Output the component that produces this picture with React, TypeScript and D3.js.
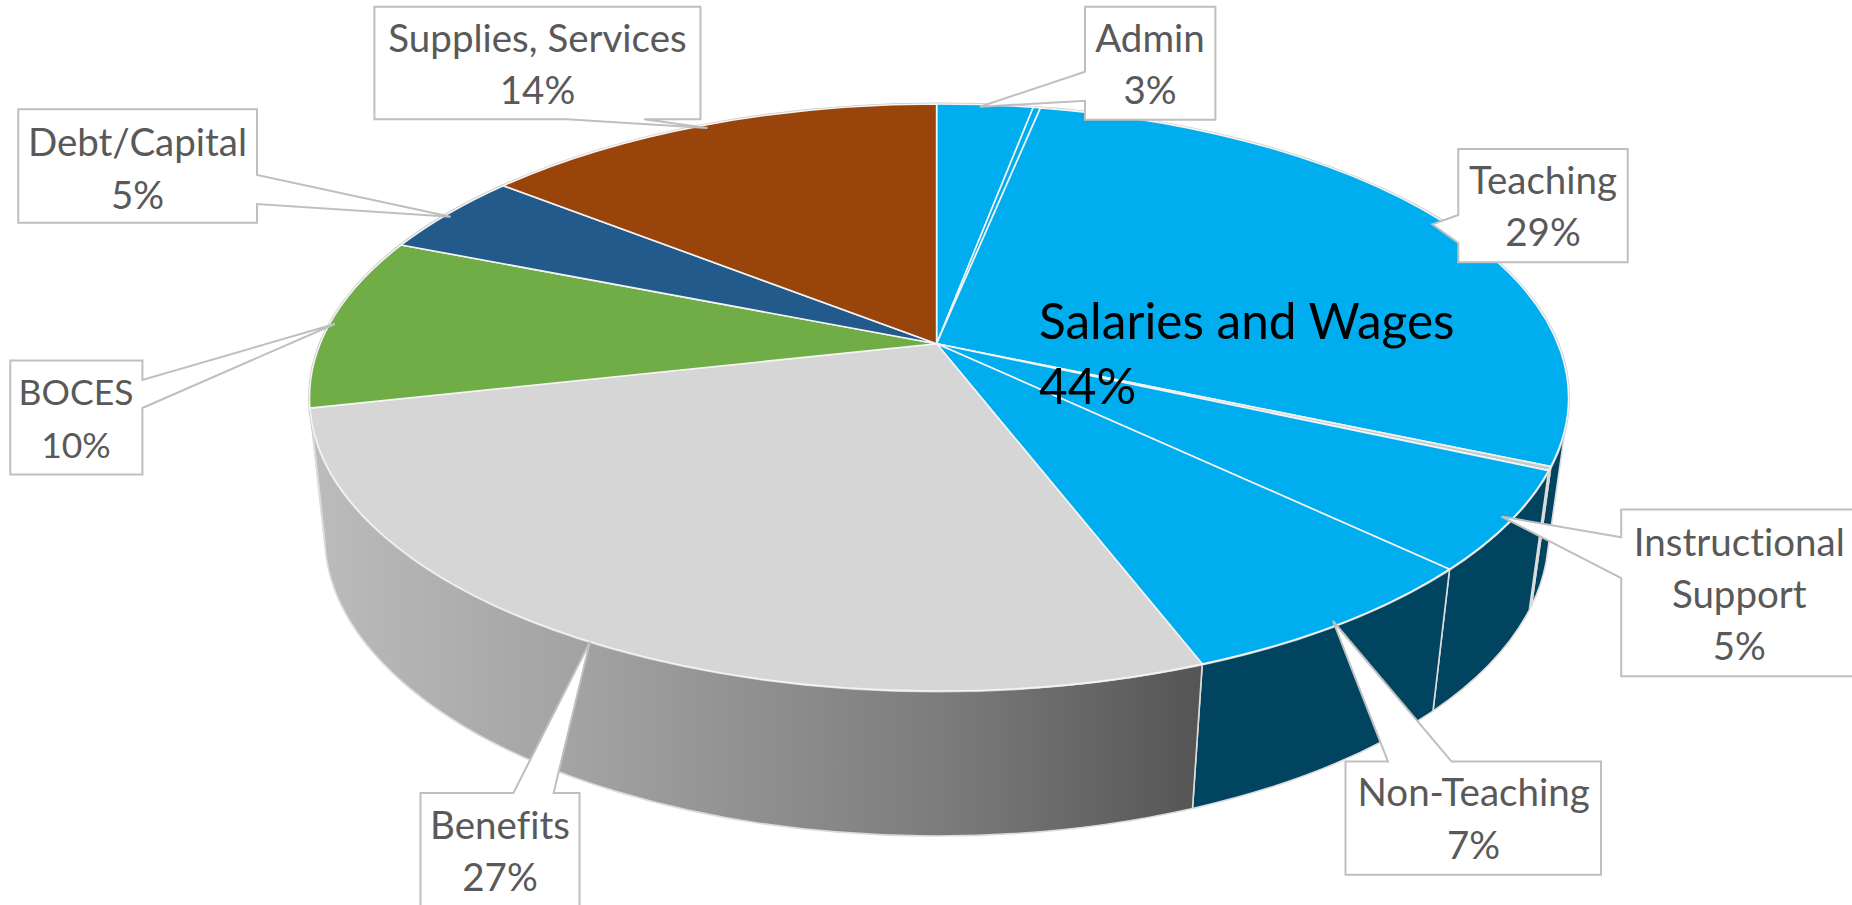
import React from "react";
import * as d3 from "d3";

// slices, clockwise from 12 o'clock. The two blank ones are the thin slivers in the original
const categories = ["Admin", "", "Teaching", "", "Instructional Support", "Non-Teaching", "Benefits", "BOCES", "Debt/Capital", "Supplies, Services"];
const values = [2.95, 0.22, 28.38, 0.22, 5.4, 7.05, 27.28, 9.6, 4.6, 14.3];
const topColors = ["#00aeef", "#00aeef", "#00aeef", "#c4ccd0", "#00aeef", "#00aeef", "#d6d6d6", "#70ad47", "#235a8c", "#99440a"];
const wallColors = ["#00445f", "#00445f", "#00445f", "#00445f", "#00445f", "#00445f", "url(#benefitsWall)", "#70ad47", "#235a8c", "#99440a"];
const percentLabels = ["3%", "29%", "5%", "7%", "27%", "10%", "5%", "14%"];
const groupLabel = ["Salaries and Wages", "44%"];

// perspective of the disc: apex sits above the centre of the rim ellipse
const apex = { x: 936.6, y: 343.7 };
const persp = { a: 619, b: 283.8, k: 0.183 };
const topRim = { cx: 939, cy: 397.5, rx: 629.5, ry: 293.5 };
const lowRim = { cx: 936.6, cy: 535, rx: 612, ry: 301 };
const WALL_FROM = 0.09;
const WALL_TO = Math.PI * 0.995;

const rimAngle = (theta: number) => {
  const u = Math.sin(theta);
  const v = -Math.cos(theta);
  const w = 1 - persp.k * v;
  const x = apex.x + (persp.a * u) / w;
  const y = apex.y + (persp.b * v) / w;
  const phi = Math.atan2((y - topRim.cy) / topRim.ry, (x - topRim.cx) / topRim.rx);
  return theta > Math.PI && phi < 0 ? phi + 2 * Math.PI : phi;
};

type Rim = typeof topRim;
const onRim = (r: Rim, phi: number) => [r.cx + r.rx * Math.cos(phi), r.cy + r.ry * Math.sin(phi)];
const arcTo = (r: Rim, from: number, to: number) => {
  const [x, y] = onRim(r, to);
  const large = Math.abs(to - from) > Math.PI ? 1 : 0;
  return `A${r.rx} ${r.ry} 0 ${large} ${to > from ? 1 : 0} ${x} ${y}`;
};

const slicePath = (a0: number, a1: number) => {
  const [x0, y0] = onRim(topRim, a0);
  return `M${apex.x} ${apex.y}L${x0} ${y0}${arcTo(topRim, a0, a1)}Z`;
};

const wallPath = (a0: number, a1: number) => {
  const [x0, y0] = onRim(topRim, a0);
  const [x1, y1] = onRim(lowRim, a1);
  return `M${x0} ${y0}${arcTo(topRim, a0, a1)}L${x1} ${y1}${arcTo(lowRim, a1, a0)}Z`;
};

// callout box with a wedge pointing at its slice
type Callout = {
  box: [number, number, number, number];
  side: "top" | "right" | "bottom" | "left";
  wedge: [number, number];
  tip: [number, number];
  cx: number;
  lines: string[];
  baselines: number[];
  size?: number;
};

const callouts: Callout[] = [
  { box: [374.4, 6.7, 700.5, 119.3], side: "bottom", wedge: [644, 567], tip: [707.4, 128], cx: 537.5, lines: [categories[9], percentLabels[7]], baselines: [52, 104] },
  { box: [1085, 6.7, 1215.4, 119.7], side: "left", wedge: [100.7, 71.7], tip: [980, 106.7], cx: 1150, lines: [categories[0], percentLabels[0]], baselines: [52, 104] },
  { box: [1458.3, 149, 1627.7, 262.3], side: "left", wedge: [243, 215], tip: [1432.3, 224.3], cx: 1543, lines: [categories[2], percentLabels[1]], baselines: [193.7, 246] },
  { box: [1621.2, 509.6, 1880, 676.3], side: "left", wedge: [578.2, 537.3], tip: [1501.5, 516.6], cx: 1739.3, lines: ["Instructional", "Support", percentLabels[2]], baselines: [555.8, 607.6, 659.5] },
  { box: [1345.5, 761.6, 1601, 874.8], side: "top", wedge: [1388, 1451.6], tip: [1333, 621], cx: 1473.6, lines: [categories[5], percentLabels[3]], baselines: [806, 859] },
  { box: [420.5, 793, 579.5, 920], side: "top", wedge: [513.4, 553.6], tip: [590, 641.7], cx: 500, lines: [categories[6], percentLabels[4]], baselines: [838.6, 890.7] },
  { box: [10.3, 360.6, 142.4, 474.5], side: "right", wedge: [380, 408], tip: [334.8, 324], cx: 76, lines: [categories[7], percentLabels[5]], baselines: [405, 458.3], size: 35.5 },
  { box: [18.3, 109.3, 257, 222.7], side: "right", wedge: [175, 204], tip: [450.7, 216.7], cx: 137.5, lines: [categories[8], percentLabels[6]], baselines: [156, 208.5] },
];

const calloutPoints = ({ box: [x0, y0, x1, y1], side, wedge: [w0, w1], tip }: Callout) => {
  const pts: number[][] = [[x0, y0]];
  if (side === "top") pts.push([w0, y0], tip, [w1, y0]);
  pts.push([x1, y0]);
  if (side === "right") pts.push([x1, w0], tip, [x1, w1]);
  pts.push([x1, y1]);
  if (side === "bottom") pts.push([w0, y1], tip, [w1, y1]);
  pts.push([x0, y1]);
  if (side === "left") pts.push([x0, w0], tip, [x0, w1]);
  return pts.map((p) => p.join(",")).join(" ");
};

export default function App() {
  const slices = d3.pie<number>().sort(null).value((d) => d)(values);
  const rims = slices.map((s) => [rimAngle(s.startAngle), rimAngle(s.endAngle)]);

  return (
    <svg
      width={1852}
      height={905}
      style={{ position: "absolute", left: 0, top: 0, display: "block", background: "#fff", fontVariantLigatures: "none" }}
      fontFamily="Lato, 'Noto Sans', sans-serif"
    >
      <defs>
        <linearGradient id="benefitsWall" gradientUnits="userSpaceOnUse" x1={310} x2={1200} y1={0} y2={0}>
          <stop offset="0" stopColor="#bcbcbc" />
          <stop offset="0.31" stopColor="#a2a2a2" />
          <stop offset="0.71" stopColor="#7c7c7c" />
          <stop offset="1" stopColor="#555555" />
        </linearGradient>
      </defs>

      {/* side wall, only the part facing us */}
      {rims.map(([a0, a1], i) => {
        const from = Math.max(a0, WALL_FROM);
        const to = Math.min(a1, WALL_TO);
        if (to <= from) return null;
        return <path key={i} d={wallPath(from, to)} fill={wallColors[i]} stroke="#dcdcdc" strokeWidth={1.6} strokeLinejoin="round" />;
      })}

      {/* grey outline round the top face */}
      <ellipse cx={topRim.cx} cy={topRim.cy} rx={topRim.rx} ry={topRim.ry} fill="none" stroke="#c8c8c8" strokeWidth={3} />

      {rims.map(([a0, a1], i) => (
        <path key={i} d={slicePath(a0, a1)} fill={topColors[i]} stroke="#f4f4f4" strokeWidth={1.6} strokeLinejoin="round" />
      ))}

      <g fontSize={49.5} fill="#000">
        <text x={1039} y={339}>{groupLabel[0]}</text>
        <text x={1039} y={404}>{groupLabel[1]}</text>
      </g>

      {callouts.map((c, i) => (
        <g key={i}>
          <polygon points={calloutPoints(c)} fill="#fff" stroke="#bfbfbf" strokeWidth={2} />
          {c.lines.map((line, j) => (
            <text key={j} x={c.cx} y={c.baselines[j]} textAnchor="middle" fontSize={c.size ?? 38.5} fill="#595959">
              {line}
            </text>
          ))}
        </g>
      ))}
    </svg>
  );
}
